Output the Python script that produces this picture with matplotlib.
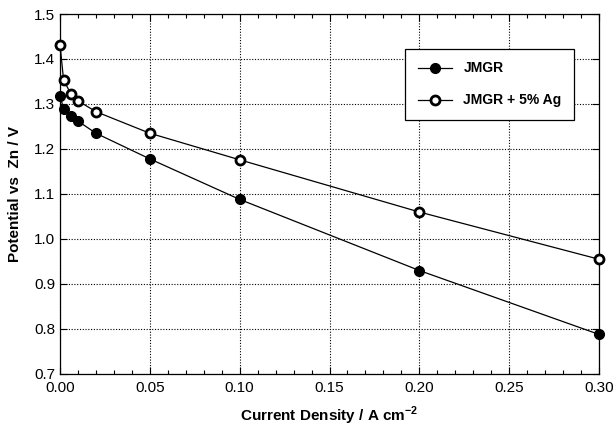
import matplotlib
matplotlib.use("Agg")
import matplotlib.pyplot as plt
from matplotlib.ticker import MultipleLocator

plt.rcParams["font.family"] = ["Liberation Sans", "DejaVu Sans"]
plt.rcParams["mathtext.fontset"] = "custom"
plt.rcParams["mathtext.bf"] = "Liberation Sans:bold"

current = [0.0, 0.002, 0.006, 0.01, 0.02, 0.05, 0.10, 0.20, 0.30]
jmgr = [1.318, 1.290, 1.274, 1.262, 1.235, 1.178, 1.088, 0.930, 0.788]
jmgr_ag = [1.432, 1.353, 1.323, 1.307, 1.283, 1.235, 1.176, 1.060, 0.955]

fig = plt.figure(figsize=(6.13, 4.28), dpi=100)
ax = fig.add_axes([60 / 613, 1 - 374 / 428, 539 / 613, 360 / 428])

ax.plot(current, jmgr, "-o", color="black", lw=0.9, ms=7,
        mfc="black", mec="black", label="JMGR", clip_on=False, zorder=3)
ax.plot(current, jmgr_ag, "-o", color="black", lw=0.9, ms=6.5,
        mfc="white", mec="black", mew=2, label="JMGR + 5% Ag",
        clip_on=False, zorder=3)

ax.set_xlim(0, 0.30)
ax.set_ylim(0.7, 1.5)
ax.xaxis.set_major_locator(MultipleLocator(0.05))
ax.xaxis.set_minor_locator(MultipleLocator(0.01))
ax.yaxis.set_major_locator(MultipleLocator(0.1))
ax.xaxis.set_major_formatter(plt.FuncFormatter(lambda v, p: f"{v:.2f}"))
ax.yaxis.set_major_formatter(plt.FuncFormatter(lambda v, p: f"{v:.1f}"))
ax.tick_params(which="both", direction="in", top=True, right=True,
               labelsize=11, width=0.8)
ax.tick_params(which="major", length=5)
ax.tick_params(which="minor", length=3)
ax.tick_params(axis="x", pad=5)

ax.grid(True, which="major", linestyle=(0, (1, 1.5)), color="black", lw=0.8)
for s in ax.spines.values():
    s.set_linewidth(0.9)

ax.set_xlabel("Current Density / A cm$^{\\mathbf{-2}}$", fontsize=11,
              fontweight="bold", labelpad=7)
ax.set_ylabel("Potential vs  Zn / V", fontsize=11, fontweight="bold",
              labelpad=9)

leg = ax.legend(loc="upper right", bbox_to_anchor=(0.954, 0.903),
                fancybox=False, framealpha=1, edgecolor="black",
                prop={"weight": "bold", "size": 10}, borderpad=0.9,
                labelspacing=1.3, handlelength=2.5, borderaxespad=0)
leg.get_frame().set_linewidth(0.9)

fig.savefig("out.png", dpi=100)
